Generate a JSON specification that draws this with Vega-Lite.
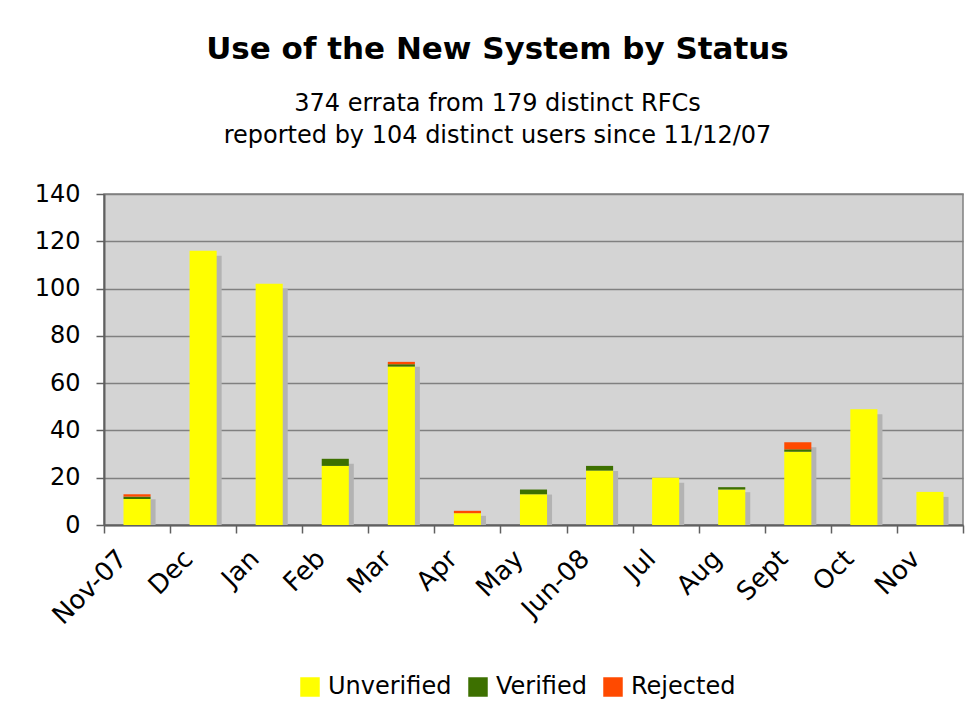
{
  "$schema": "https://vega.github.io/schema/vega-lite/v6.json",
  "autosize": "none",
  "width": 859,
  "height": 331,
  "padding": {"left": 104, "top": 194, "right": 6, "bottom": 176},
  "background": "white",
  "title": {
    "text": "Use of the New System by Status",
    "subtitle": ["374 errata from 179 distinct RFCs", "reported by 104 distinct users since 11/12/07"],
    "anchor": "middle",
    "dx": -36,
    "offset": 33,
    "font": "DejaVu Sans",
    "fontSize": 31,
    "fontWeight": "bold",
    "color": "black",
    "subtitleFont": "DejaVu Sans",
    "subtitleFontSize": 24,
    "subtitleColor": "black",
    "subtitleLineHeight": 32,
    "subtitlePadding": 26
  },
  "config": {
    "view": {"fill": "#d4d4d4", "stroke": "#808080", "strokeWidth": 1.5},
    "font": "DejaVu Sans"
  },
  "data": {
    "values": [
      {"month": "Nov-07", "status": "Unverified", "rank": 1, "count": 11},
      {"month": "Nov-07", "status": "Verified", "rank": 2, "count": 1},
      {"month": "Nov-07", "status": "Rejected", "rank": 3, "count": 1},
      {"month": "Dec", "status": "Unverified", "rank": 1, "count": 116},
      {"month": "Jan", "status": "Unverified", "rank": 1, "count": 102},
      {"month": "Feb", "status": "Unverified", "rank": 1, "count": 25},
      {"month": "Feb", "status": "Verified", "rank": 2, "count": 3},
      {"month": "Mar", "status": "Unverified", "rank": 1, "count": 67},
      {"month": "Mar", "status": "Verified", "rank": 2, "count": 1},
      {"month": "Mar", "status": "Rejected", "rank": 3, "count": 1},
      {"month": "Apr", "status": "Unverified", "rank": 1, "count": 5},
      {"month": "Apr", "status": "Rejected", "rank": 3, "count": 1},
      {"month": "May", "status": "Unverified", "rank": 1, "count": 13},
      {"month": "May", "status": "Verified", "rank": 2, "count": 2},
      {"month": "Jun-08", "status": "Unverified", "rank": 1, "count": 23},
      {"month": "Jun-08", "status": "Verified", "rank": 2, "count": 2},
      {"month": "Jul", "status": "Unverified", "rank": 1, "count": 20},
      {"month": "Aug", "status": "Unverified", "rank": 1, "count": 15},
      {"month": "Aug", "status": "Verified", "rank": 2, "count": 1},
      {"month": "Sept", "status": "Unverified", "rank": 1, "count": 31},
      {"month": "Sept", "status": "Verified", "rank": 2, "count": 1},
      {"month": "Sept", "status": "Rejected", "rank": 3, "count": 3},
      {"month": "Oct", "status": "Unverified", "rank": 1, "count": 49},
      {"month": "Nov", "status": "Unverified", "rank": 1, "count": 14}
    ]
  },
  "encoding": {
    "x": {
      "field": "month",
      "type": "nominal",
      "sort": null,
      "scale": {"paddingInner": 0, "paddingOuter": 0},
      "axis": {
        "title": null,
        "labelAngle": -45,
        "labelFontSize": 26,
        "labelColor": "black",
        "labelFont": "DejaVu Sans",
        "labelOffset": -24,
        "labelPadding": 12,
        "tickBand": "extent",
        "tickSize": 8,
        "tickColor": "#606060",
        "tickWidth": 1.5,
        "domainColor": "#606060",
        "domainWidth": 2,
        "grid": false
      }
    }
  },
  "layer": [
    {
      "mark": {"type": "bar", "color": "#b3b3b3", "width": {"band": 0.41}, "xOffset": 5, "yOffset": 5},
      "encoding": {
        "y": {"aggregate": "sum", "field": "count", "type": "quantitative"}
      }
    },
    {
      "mark": {"type": "bar", "width": {"band": 0.41}},
      "encoding": {
        "y": {
          "aggregate": "sum",
          "field": "count",
          "type": "quantitative",
          "stack": "zero",
          "scale": {"domain": [0, 140], "nice": false},
          "axis": {
            "title": null,
            "values": [0, 20, 40, 60, 80, 100, 120, 140],
            "labelFontSize": 24,
            "labelColor": "black",
            "labelFont": "DejaVu Sans",
            "labelPadding": 16,
            "tickSize": 8,
            "tickColor": "#606060",
            "tickWidth": 1.5,
            "domainColor": "#606060",
            "domainWidth": 2,
            "grid": true,
            "gridColor": "#808080",
            "gridWidth": 1.5
          }
        },
        "color": {
          "field": "status",
          "type": "nominal",
          "sort": ["Unverified", "Verified", "Rejected"],
          "scale": {"domain": ["Unverified", "Verified", "Rejected"], "range": ["#ffff00", "#3d7000", "#ff4a00"]},
          "legend": {
            "title": null,
            "orient": "none",
            "direction": "horizontal",
            "legendX": 194,
            "legendY": 481,
            "symbolType": "square",
            "symbolSize": 380,
            "symbolStrokeWidth": 0,
            "labelFontSize": 24,
            "labelFont": "DejaVu Sans",
            "labelColor": "black",
            "labelOffset": 6,
            "columnPadding": 14
          }
        },
        "order": {"field": "rank", "type": "quantitative", "sort": "ascending"}
      }
    }
  ]
}
